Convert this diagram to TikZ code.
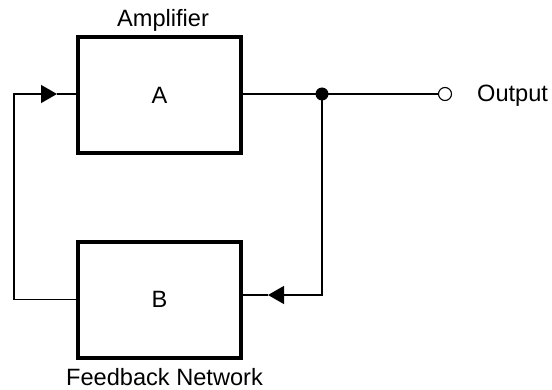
\documentclass[tikz,border=0pt]{standalone}
\usepackage{fontspec}
\setmainfont{Liberation Sans}
\usetikzlibrary{arrows.meta}

\begin{document}
\begin{tikzpicture}[x = 1pt, y = 1pt,
    font = \fontsize{23.6}{28}\selectfont,
    block/.style = {draw, line width = 4pt, minimum width = 163pt, minimum height = 116pt, inner sep = 0pt},
    label/.style = {anchor = base, inner sep = 0pt},
    wire/.style = {line width = 1.3pt},
    tip/.style = {-{Triangle[length = 16pt, width = 18pt]}},
    dot/.style = {circle, fill, minimum size = 13pt, inner sep = 0pt},
    port/.style = {circle, draw, fill = white, line width = 1.1pt, minimum size = 13pt, inner sep = 0pt}]
  \useasboundingbox (0, 0) rectangle (552, 389);

  \node[block] (ampA) at (159.5, 294) {A};
  \node[block] (netB) at (159.5, 89.5) {B};

  \node[label] (ampLabel) at (163, 362) {Amplifier};
  \node[label] (netLabel) at (164.5, 4) {Feedback Network};

  \coordinate (split) at (322, 295);
  \coordinate (loopL) at (14, 295);
  \coordinate (inA) at (57, 295);
  \coordinate (inB) at (268, 94);

  \draw[wire] (ampA.east |- split) -- (split);
  \draw[wire, tip] (netB.west) -| (loopL) -- (inA);
  \draw[wire] (inA) -- (inA -| ampA.west);
  \draw[wire, tip] (split) |- (inB);
  \draw[wire] (inB) -- (inB -| netB.east);

  \node[port] (out) at (445, 295) {};
  \draw[wire] (split) -- (out);
  \node[dot] at (split) {};
  \node[anchor = base west, inner sep = 0pt] (outLabel) at (477, 287) {Output};
\end{tikzpicture}
\end{document}
